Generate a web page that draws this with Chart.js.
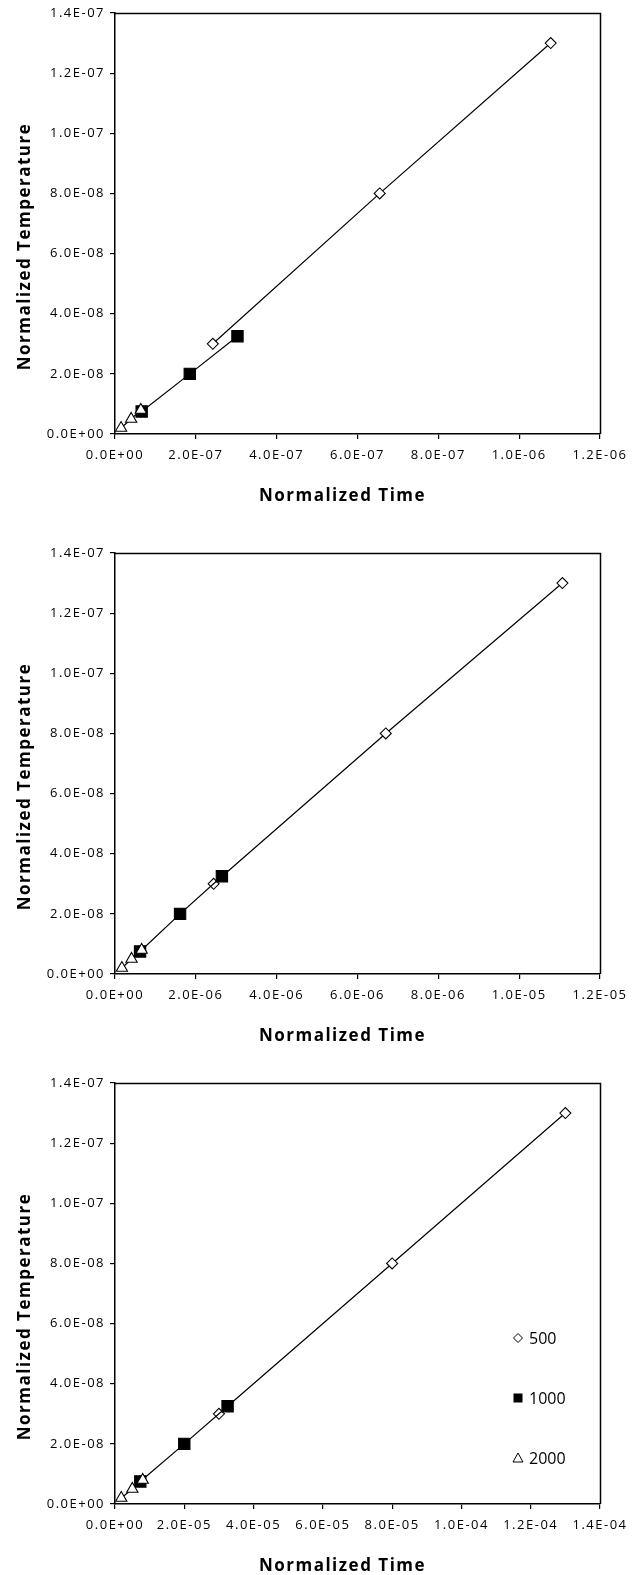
<!DOCTYPE html>
<html>
<head>
<meta charset="utf-8">
<script src="https://cdn.jsdelivr.net/npm/chart.js@4.4.1/dist/chart.umd.min.js"></script>
<style>
  body { margin: 0; background: #fff; overflow: hidden; }
  .box { position: absolute; left: 0; width: 642px; }
</style>
</head>
<body>
<div class="box" style="top:0px;height:530px"><canvas id="chart1" width="642" height="530"></canvas></div>
<div class="box" style="top:540px;height:530px"><canvas id="chart2" width="642" height="530"></canvas></div>
<div class="box" style="top:1070px;height:505px"><canvas id="chart3" width="642" height="505"></canvas></div>
<script>
// series names
const seriesNames = ['500', '1000', '2000'];

// normalized temperature (same for all three panels)
const temp500 = [3.0e-8, 8.0e-8, 1.3e-7];
const temp1000 = [7.5e-9, 2.0e-8, 3.25e-8];
const temp2000 = [2.0e-9, 5.0e-9, 8.0e-9];

// normalized time, panel 1
const time1_500 = [2.42e-7, 6.55e-7, 1.078e-6];
const time1_1000 = [6.6e-8, 1.85e-7, 3.03e-7];
const time1_2000 = [1.5e-8, 4.0e-8, 6.4e-8];

// normalized time, panel 2
const time2_500 = [2.44e-6, 6.7e-6, 1.107e-5];
const time2_1000 = [6.2e-7, 1.61e-6, 2.645e-6];
const time2_2000 = [1.7e-7, 4.1e-7, 6.6e-7];

// normalized time, panel 3
const time3_500 = [3.0e-5, 8.0e-5, 1.3e-4];
const time3_1000 = [7.3e-6, 2.0e-5, 3.25e-5];
const time3_2000 = [1.8e-6, 5.0e-6, 8.0e-6];

// axis ticks
const yTickValues = [0, 2e-8, 4e-8, 6e-8, 8e-8, 1e-7, 1.2e-7, 1.4e-7];
const yTickLabels = ['0.0E+00', '2.0E-08', '4.0E-08', '6.0E-08', '8.0E-08', '1.0E-07', '1.2E-07', '1.4E-07'];
const x1TickValues = [0, 2e-7, 4e-7, 6e-7, 8e-7, 1e-6, 1.2e-6];
const x1TickLabels = ['0.0E+00', '2.0E-07', '4.0E-07', '6.0E-07', '8.0E-07', '1.0E-06', '1.2E-06'];
const x2TickValues = [0, 2e-6, 4e-6, 6e-6, 8e-6, 1e-5, 1.2e-5];
const x2TickLabels = ['0.0E+00', '2.0E-06', '4.0E-06', '6.0E-06', '8.0E-06', '1.0E-05', '1.2E-05'];
const x3TickValues = [0, 2e-5, 4e-5, 6e-5, 8e-5, 1e-4, 1.2e-4, 1.4e-4];
const x3TickLabels = ['0.0E+00', '2.0E-05', '4.0E-05', '6.0E-05', '8.0E-05', '1.0E-04', '1.2E-04', '1.4E-04'];

const xTitle = 'Normalized Time';
const yTitle = 'Normalized Temperature';

const FONT = "'Open Sans', 'DejaVu Sans', sans-serif";

function pts(xs, ys) {
  return xs.map((x, i) => ({ x: x, y: ys[i] }));
}

// marker styles per series
const styles = [
  { pointStyle: 'rectRot', pointRadius: 5.5, pointBackgroundColor: '#fff' },
  { pointStyle: 'rect', pointRadius: 8, pointBackgroundColor: '#000' },
  { pointStyle: 'triangle', pointRadius: 6.5, pointBackgroundColor: '#fff' }
];

// box round the plot + axis titles
const framePlugin = {
  id: 'frame',
  beforeDraw(chart) {
    chart.ctx.letterSpacing = '1.5px';
  },
  afterDraw(chart) {
    const ctx = chart.ctx;
    const a = chart.chartArea;
    ctx.save();
    ctx.strokeStyle = '#000';
    ctx.lineWidth = 1.5;
    ctx.beginPath();
    ctx.moveTo(a.left, a.top + 0.5);
    ctx.lineTo(a.right + 0.5, a.top + 0.5);
    ctx.lineTo(a.right + 0.5, a.bottom);
    ctx.stroke();

    ctx.fillStyle = '#000';
    ctx.font = 'bold 17px ' + FONT;
    ctx.letterSpacing = '1.5px';
    ctx.textAlign = 'center';
    ctx.textBaseline = 'middle';
    ctx.fillText(xTitle, (a.left + a.right) / 2 - 15, a.bottom + 62);
    ctx.translate(25, (a.top + a.bottom) / 2 + 23);
    ctx.rotate(-Math.PI / 2);
    ctx.fillText(yTitle, 0, 0);
    ctx.restore();
  }
};

// legend drawn inside the plot of the last panel
const legendPlugin = {
  id: 'innerLegend',
  afterDraw(chart) {
    const ctx = chart.ctx;
    const a = chart.chartArea;
    ctx.save();
    ctx.letterSpacing = '0px';
    ctx.font = '16px ' + FONT;
    ctx.textAlign = 'left';
    ctx.textBaseline = 'middle';
    ctx.strokeStyle = '#000';
    ctx.fillStyle = '#000';
    ctx.lineWidth = 1;
    chart.data.datasets.forEach((ds, i) => {
      const y = a.top + 255 + i * 60;
      const x = a.right - 82;
      ctx.beginPath();
      if (ds.pointStyle === 'rectRot') {
        ctx.moveTo(x - 4.5, y); ctx.lineTo(x, y - 4.5); ctx.lineTo(x + 4.5, y); ctx.lineTo(x, y + 4.5); ctx.closePath();
        ctx.fillStyle = '#fff'; ctx.fill(); ctx.stroke();
      } else if (ds.pointStyle === 'rect') {
        ctx.fillStyle = '#000'; ctx.fillRect(x - 4.5, y - 4.5, 9, 9);
      } else {
        ctx.moveTo(x, y - 5); ctx.lineTo(x + 5, y + 4); ctx.lineTo(x - 5, y + 4); ctx.closePath();
        ctx.fillStyle = '#fff'; ctx.fill(); ctx.stroke();
      }
      ctx.fillStyle = '#000';
      ctx.fillText(ds.label, x + 11, y + 1);
    });
    ctx.restore();
  }
};

function makeChart(id, xSets, xMax, xTickValues, xTickLabels, withLegend) {
  const ySets = [temp500, temp1000, temp2000];
  const datasets = seriesNames.map((name, i) => Object.assign({
    label: name,
    data: pts(xSets[i], ySets[i]),
    showLine: true,
    borderColor: '#000',
    borderWidth: 1.2,
    pointBorderColor: '#000',
    pointBorderWidth: 1.1,
    order: 2 - i
  }, styles[i]));

  const tickFont = { family: FONT, size: 13 };
  return new Chart(document.getElementById(id), {
    type: 'scatter',
    data: { datasets: datasets },
    options: {
      responsive: false,
      animation: false,
      events: [],
      layout: { padding: { top: 13, right: 42, left: 0, bottom: 0 } },
      plugins: { legend: { display: false }, tooltip: { enabled: false } },
      scales: {
        x: {
          type: 'linear',
          min: 0,
          max: xMax,
          afterFit(s) { s.height = s.chart.height - 434; },
          afterBuildTicks(s) { s.ticks = xTickValues.map(v => ({ value: v })); },
          ticks: {
            color: '#000',
            font: tickFont,
            padding: 8,
            maxRotation: 0,
            autoSkip: false,
            callback: (v, i) => xTickLabels[i]
          },
          grid: { display: true, drawOnChartArea: false, drawTicks: true, tickLength: 5, color: '#000', lineWidth: 1.2 },
          border: { display: true, color: '#000', width: 1.5 }
        },
        y: {
          type: 'linear',
          min: 0,
          max: 1.4e-7,
          afterFit(s) { s.width = 115; },
          afterBuildTicks(s) { s.ticks = yTickValues.map(v => ({ value: v })); },
          ticks: {
            color: '#000',
            font: tickFont,
            padding: 5,
            autoSkip: false,
            callback: (v, i) => yTickLabels[i]
          },
          grid: { display: true, drawOnChartArea: false, drawTicks: true, tickLength: 5, color: '#000', lineWidth: 1.2 },
          border: { display: true, color: '#000', width: 1.5 }
        }
      }
    },
    plugins: withLegend ? [framePlugin, legendPlugin] : [framePlugin]
  });
}

makeChart('chart1', [time1_500, time1_1000, time1_2000], 1.2e-6, x1TickValues, x1TickLabels, false);
makeChart('chart2', [time2_500, time2_1000, time2_2000], 1.2e-5, x2TickValues, x2TickLabels, false);
makeChart('chart3', [time3_500, time3_1000, time3_2000], 1.4e-4, x3TickValues, x3TickLabels, true);
</script>
</body>
</html>
